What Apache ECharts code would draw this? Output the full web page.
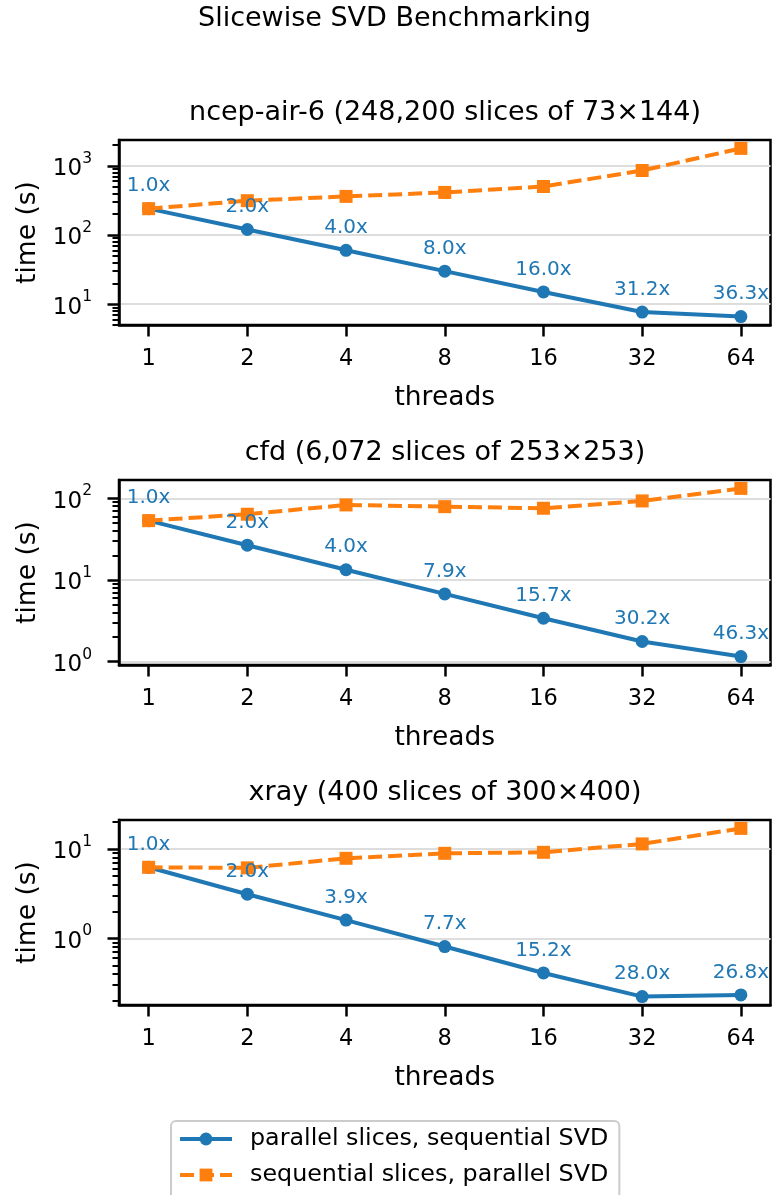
<!DOCTYPE html>
<html>
<head>
<meta charset="utf-8">
<script src="https://cdn.jsdelivr.net/npm/echarts@6/dist/echarts.min.js"></script>
<style>
  html, body { margin: 0; padding: 0; background: #ffffff; }
  #chart { width: 772px; height: 1195px; }
</style>
</head>
<body>
<div id="chart"></div>
<script>
// Thread counts on the x axis
const threads = [1, 2, 4, 8, 16, 32, 64];

const suptitle = 'Slicewise SVD Benchmarking';
const panelTitles = [
  'ncep-air-6 (248,200 slices of 73×144)',
  'cfd (6,072 slices of 253×253)',
  'xray (400 slices of 300×400)'
];
const seriesNames = ['parallel slices, sequential SVD', 'sequential slices, parallel SVD'];

// Wall-clock time in seconds
const ncepParallelSlices = [240, 120, 60, 30, 15, 7.69, 6.61];
const ncepParallelSvd    = [240, 313, 361, 412, 502, 855, 1783];
const cfdParallelSlices  = [53.2, 26.6, 13.3, 6.73, 3.39, 1.76, 1.149];
const cfdParallelSvd     = [53.2, 63.7, 82.8, 78.9, 75.4, 92.7, 132];
const xrayParallelSlices = [6.24, 3.12, 1.6, 0.81, 0.41, 0.223, 0.233];
const xrayParallelSvd    = [6.24, 6.15, 7.87, 8.95, 9.18, 11.4, 17.0];

const panels = [
  { title: panelTitles[0], slices: ncepParallelSlices, svd: ncepParallelSvd },
  { title: panelTitles[1], slices: cfdParallelSlices,  svd: cfdParallelSvd },
  { title: panelTitles[2], slices: xrayParallelSlices, svd: xrayParallelSvd }
];

const FONT = 'DejaVu Sans';
const BLUE = '#1f77b4';
const ORANGE = '#ff7f0e';
const GRID_LEFT = 119;
const GRID_RIGHT = 1.5;
const GRID_HEIGHT = 185;
const GRID_TOPS = [140, 480, 820];
const PLOT_CENTER_X = 445;

// Log-axis limits padded by 5% of the decade span on each side
function logLimits(values) {
  const logs = values.map(Math.log10);
  const lo = Math.min(...logs), hi = Math.max(...logs);
  const pad = (hi - lo) * 0.05;
  return [Math.pow(10, lo - pad), Math.pow(10, hi + pad)];
}

function decadeTicks(min, max) {
  const major = [], minor = [];
  for (let k = Math.floor(Math.log10(min)); k <= Math.ceil(Math.log10(max)); k++) {
    const p = Math.pow(10, k);
    if (p >= min && p <= max) major.push(p);
    for (let m = 2; m <= 9; m++) {
      const v = m * p;
      if (v >= min && v <= max) minor.push(v);
    }
  }
  return { major, minor };
}

const tickIdx = threads.map((_, i) => i);

const grids = [], xAxes = [], yAxes = [], series = [], titles = [];

titles.push({
  text: suptitle, left: 394.5, top: 5.5, textAlign: 'center', padding: 0,
  textStyle: { fontFamily: FONT, fontSize: 27, fontWeight: 'normal', color: '#000' }
});

panels.forEach((p, i) => {
  const top = GRID_TOPS[i];
  const [yMin, yMax] = logLimits(p.slices.concat(p.svd));
  const ticks = decadeTicks(yMin, yMax);

  titles.push({
    text: p.title, left: PLOT_CENTER_X, top: top - 41, textAlign: 'center', padding: 0,
    textStyle: { fontFamily: FONT, fontSize: 27, fontWeight: 'normal', color: '#000' }
  });

  grids.push({
    left: GRID_LEFT, right: GRID_RIGHT, top: top, height: GRID_HEIGHT,
    show: true, borderColor: '#000', borderWidth: 2.5, backgroundColor: 'transparent'
  });

  xAxes.push({
    type: 'value', gridIndex: i, min: -0.3, max: 6.3,
    splitLine: { show: false },
    axisLine: { show: true, onZero: false, lineStyle: { color: '#000', width: 2.5 } },
    axisTick: { show: true, customValues: tickIdx, length: 11.5, lineStyle: { color: '#000', width: 2.5 } },
    axisLabel: {
      customValues: tickIdx, formatter: v => String(threads[v]),
      fontFamily: FONT, fontSize: 22.5, color: '#000', margin: 23
    },
    name: 'threads', nameLocation: 'middle', nameGap: 60,
    nameTextStyle: { fontFamily: FONT, fontSize: 26.5, color: '#000' }
  });

  // major decades: ticks, labels, grid lines
  yAxes.push({
    type: 'log', logBase: 10, gridIndex: i, min: yMin, max: yMax, position: 'left',
    axisLine: { show: true, onZero: false, lineStyle: { color: '#000', width: 2.5 } },
    axisTick: { show: true, customValues: ticks.major, length: 11.5, lineStyle: { color: '#000', width: 2.5 } },
    splitLine: { show: true, lineStyle: { color: '#dddddd', width: 2 } },
    minorTick: { show: false }, minorSplitLine: { show: false },
    axisLabel: {
      customValues: ticks.major, margin: 27, color: '#000',
      formatter: v => '{b|10}{s|' + Math.round(Math.log10(v)) + '}',
      rich: {
        b: { fontFamily: FONT, fontSize: 23, color: '#000', lineHeight: 30, verticalAlign: 'bottom' },
        s: { fontFamily: FONT, fontSize: 15.5, color: '#000', lineHeight: 21, verticalAlign: 'top' }
      }
    },
    name: 'time (s)', nameLocation: 'middle', nameGap: 76, nameRotate: 90,
    nameTextStyle: { fontFamily: FONT, fontSize: 26.5, color: '#000' }
  });

  // minor ticks at 2..9 × 10^k
  yAxes.push({
    type: 'log', logBase: 10, gridIndex: i, min: yMin, max: yMax, position: 'left',
    axisLine: { show: false, onZero: false },
    axisTick: { show: true, customValues: ticks.minor, length: 6.5, lineStyle: { color: '#000', width: 2 } },
    splitLine: { show: false },
    axisLabel: { show: false }
  });

  const base = p.slices[0];
  series.push({
    name: seriesNames[0], type: 'line', xAxisIndex: i, yAxisIndex: 2 * i,
    data: p.slices.map((v, j) => [j, v]),
    symbol: 'circle', symbolSize: 13,
    lineStyle: { color: BLUE, width: 4 },
    itemStyle: { color: BLUE },
    label: {
      show: true, position: 'top', distance: 6,
      formatter: d => (base / d.value[1]).toFixed(1) + 'x',
      fontFamily: FONT, fontSize: 20, color: BLUE
    },
    emphasis: { disabled: true }, silent: true
  });
  series.push({
    name: seriesNames[1], type: 'line', xAxisIndex: i, yAxisIndex: 2 * i,
    data: p.svd.map((v, j) => [j, v]),
    symbol: 'rect', symbolSize: 13,
    lineStyle: { color: ORANGE, width: 4, type: [14, 6] },
    itemStyle: { color: ORANGE },
    emphasis: { disabled: true }, silent: true
  });
});

const legendText = { fontFamily: FONT, fontSize: 23.8, color: '#000', padding: [0, 0, 0, 13], lineHeight: 26 };

const chart = echarts.init(document.getElementById('chart'), null, { renderer: 'canvas' });
chart.setOption({
  animation: false,
  backgroundColor: '#ffffff',
  title: titles,
  grid: grids,
  xAxis: xAxes,
  yAxis: yAxes,
  series: series,
  legend: [
    {
      // framed box holding both entries
      data: [seriesNames[0]], left: 171, top: 1121,
      itemWidth: 52, itemHeight: 16,
      lineStyle: { width: 4 },
      padding: [5, 11, 60, 7],
      backgroundColor: 'rgba(255,255,255,0.8)', borderColor: '#cccccc', borderWidth: 2, borderRadius: 5,
      textStyle: legendText, selectedMode: false
    },
    {
      data: [seriesNames[1]], left: 178, top: 1162,
      itemWidth: 52, itemHeight: 16, padding: 0,
      lineStyle: { width: 4 },
      textStyle: legendText, selectedMode: false
    }
  ]
});
</script>
</body>
</html>
